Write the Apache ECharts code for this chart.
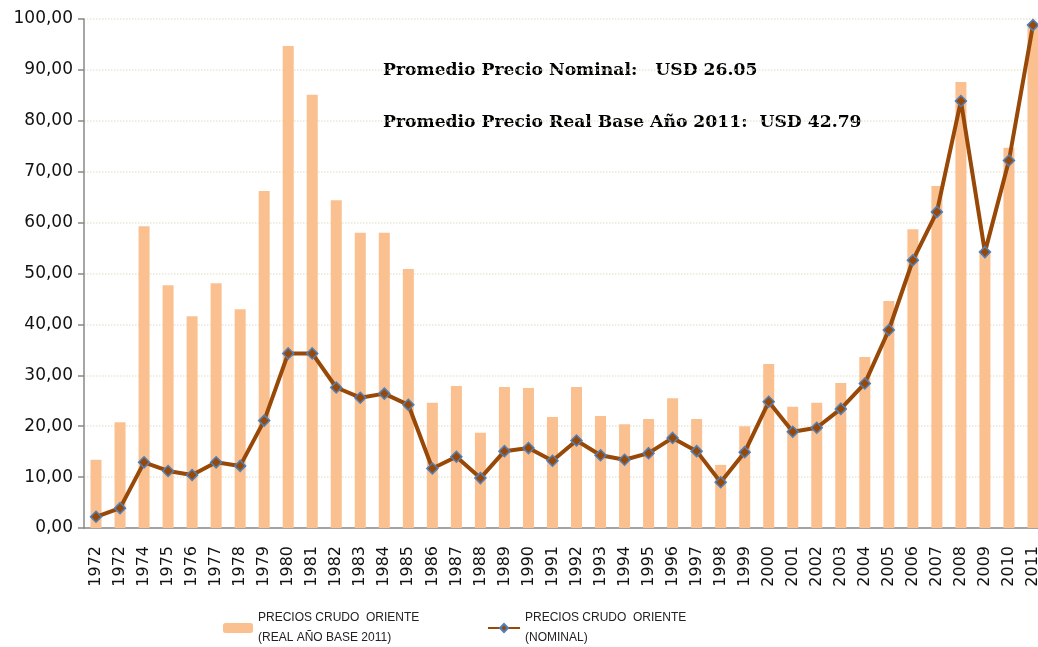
<!DOCTYPE html>
<html>
<head>
<meta charset="utf-8">
<script src="https://cdn.jsdelivr.net/npm/echarts@6/dist/echarts.min.js"></script>
<style>
  html, body { margin: 0; padding: 0; background: #fff; overflow: hidden; }
  #chart { width: 1050px; height: 647px; }
</style>
</head>
<body>
<div id="chart"></div>
<script>
// datos
var years = ['1972','1972','1974','1975','1976','1977','1978','1979','1980','1981',
             '1982','1983','1984','1985','1986','1987','1988','1989','1990','1991',
             '1992','1993','1994','1995','1996','1997','1998','1999','2000','2001',
             '2002','2003','2004','2005','2006','2007','2008','2009','2010','2011'];
// precio real base 2011
var realPrice = [13.4, 20.8, 59.3, 47.7, 41.6, 48.1, 43.0, 66.2, 94.7, 85.1,
                 64.4, 58.0, 58.0, 50.9, 24.6, 27.9, 18.7, 27.7, 27.5, 21.8,
                 27.7, 22.0, 20.4, 21.4, 25.5, 21.4, 12.4, 20.0, 32.2, 23.8,
                 24.6, 28.5, 33.6, 44.6, 58.7, 67.2, 87.6, 54.5, 74.7, 98.8];
// precio nominal
var nominalPrice = [2.2, 3.9, 12.9, 11.2, 10.4, 12.9, 12.2, 21.1, 34.3, 34.3,
                    27.6, 25.6, 26.4, 24.2, 11.7, 14.0, 9.8, 15.1, 15.7, 13.2,
                    17.2, 14.3, 13.4, 14.7, 17.7, 15.1, 9.0, 14.9, 24.8, 18.9,
                    19.7, 23.4, 28.4, 38.9, 52.6, 62.1, 83.9, 54.2, 72.2, 98.8];
var realName = 'PRECIOS CRUDO  ORIENTE\n(REAL AÑO BASE 2011)';
var nominalName = 'PRECIOS CRUDO  ORIENTE\n(NOMINAL)';
var notes = ['Promedio Precio Nominal:   USD 26.05',
             'Promedio Precio Real Base Año 2011:  USD 42.79'];

var myChart = echarts.init(document.getElementById('chart'));

var legendText = {
    fontFamily: 'Liberation Sans Narrow, Liberation Sans, sans-serif',
    fontSize: 12,
    color: '#222',
    lineHeight: 20,
    padding: [20, 0, 0, 0]
};

var noteStyle = {
    fontFamily: 'DejaVu Serif, serif',
    fontWeight: 'bold',
    fontSize: 17.2,
    fill: '#000'
};

var option = {
    animation: false,
    backgroundColor: '#fff',
    grid: {
        left: 84,
        top: 19,
        width: 961,
        height: 509
    },
    legend: [{
        data: [realName],
        left: 218,
        top: 593,
        itemWidth: 30,
        itemHeight: 10,
        itemGap: 0,
        textStyle: legendText
    }, {
        data: [nominalName],
        left: 482,
        top: 593,
        itemWidth: 32,
        itemHeight: 10,
        textStyle: legendText
    }],
    graphic: [{
        type: 'text',
        left: 383,
        top: 62,
        style: Object.assign({ text: notes[0] }, noteStyle)
    }, {
        type: 'text',
        left: 383,
        top: 114,
        style: Object.assign({ text: notes[1] }, noteStyle)
    }],
    xAxis: {
        type: 'category',
        data: years,
        axisLine: { lineStyle: { color: '#888', width: 1.5 } },
        axisTick: { length: 6, lineStyle: { color: '#888', width: 1.5 } },
        axisLabel: {
            rotate: 90,
            interval: 0,
            fontFamily: 'DejaVu Sans, sans-serif',
            fontSize: 16,
            color: '#111',
            margin: 18
        }
    },
    yAxis: {
        type: 'value',
        min: 0,
        max: 100,
        interval: 10,
        axisLine: { show: true, lineStyle: { color: '#888', width: 1.5 } },
        axisTick: { show: true, length: 6, lineStyle: { color: '#888', width: 1.5 } },
        axisLabel: {
            fontFamily: 'DejaVu Sans, sans-serif',
            fontSize: 17,
            color: '#111',
            margin: 11,
            formatter: function (v) { return v.toFixed(2).replace('.', ','); }
        },
        splitLine: { lineStyle: { color: '#ebe7d3', type: 'dotted', width: 1.5 } }
    },
    series: [{
        name: realName,
        type: 'bar',
        barWidth: 11,
        itemStyle: { color: '#fac090' },
        data: realPrice
    }, {
        name: nominalName,
        type: 'line',
        symbol: 'diamond',
        symbolSize: 11,
        lineStyle: { color: '#984807', width: 4 },
        itemStyle: { color: '#984807', borderColor: '#4f81bd', borderWidth: 1.5 },
        data: nominalPrice
    }]
};
myChart.setOption(option);
</script>
</body>
</html>
